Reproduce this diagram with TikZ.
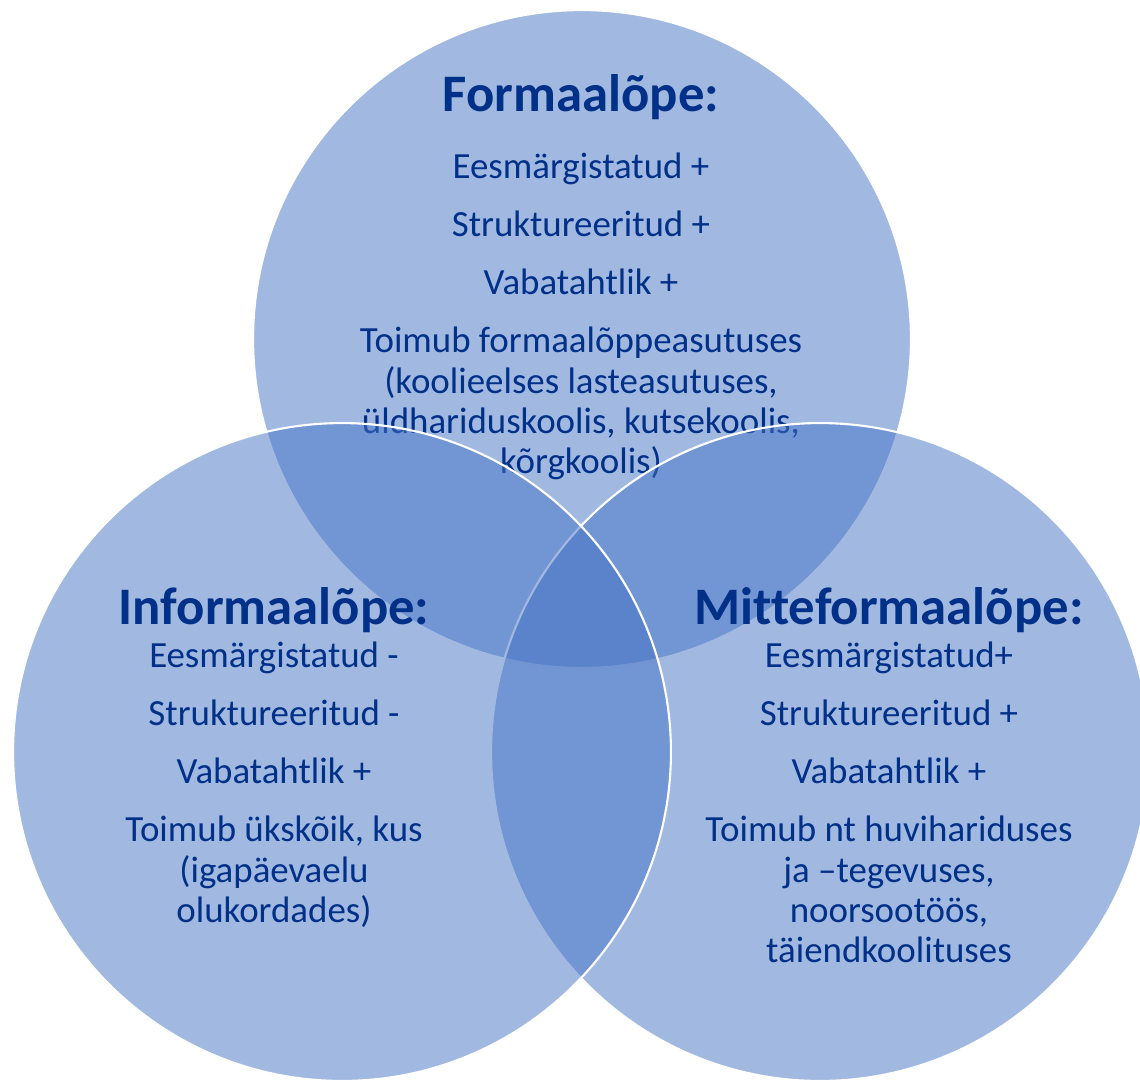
\documentclass[tikz,border=0pt]{standalone}
\usepackage{fontspec}
\setmainfont{Carlito}[Ligatures=CommonOff]
\usetikzlibrary{positioning}
\definecolor{vennfill}{RGB}{68,114,196}
\definecolor{venntext}{RGB}{0,48,135}
\tikzset{
  venn/.style={fill=vennfill, fill opacity=0.5, draw=white, line width=1.2pt},
  headtxt/.style={text=venntext, inner sep=0pt, font=\fontsize{30}{35}\selectfont\bfseries},
  bodytxt/.style={text=venntext, inner sep=0pt, align=center, font=\fontsize{21}{23}\selectfont},
}
\begin{document}
\begin{tikzpicture}[x=0.02cm,y=-0.02cm]
	\useasboundingbox (0,0) rectangle (1140,1080);
	\clip (0,0) rectangle (1140,1080);
	% formaalõpe
	\filldraw[venn] (582,339) circle[radius=6.58cm];
	\node[headtxt] (fhead) at (581,97) {Formaalõpe:};
	\node[bodytxt, below=0.66cm of fhead] (fbody) {Eesmärgistatud +\\[0.35cm]
		Struktureeritud +\\[0.35cm]
		Vabatahtlik +\\[0.35cm]
		Toimub formaalõppeasutuses\\
		(koolieelses lasteasutuses,\\
		üldhariduskoolis, kutsekoolis,\\
		kõrgkoolis)};
	% mitteformaalõpe
	\filldraw[venn] (820,752) circle[radius=6.58cm];
	\node[headtxt] (mhead) at (889,610) {Mitteformaalõpe:};
	\node[bodytxt, below=0.18cm of mhead] (mbody) {Eesmärgistatud+\\[0.35cm]
		Struktureeritud +\\[0.35cm]
		Vabatahtlik +\\[0.35cm]
		Toimub nt huvihariduses\\
		ja –tegevuses,\\
		noorsootöös,\\
		täiendkoolituses};
	% informaalõpe
	\filldraw[venn] (342,752) circle[radius=6.58cm];
	\node[headtxt] (ihead) at (274,610) {Informaalõpe:};
	\node[bodytxt, below=0.18cm of ihead] (ibody) {Eesmärgistatud -\\[0.35cm]
		Struktureeritud -\\[0.35cm]
		Vabatahtlik +\\[0.35cm]
		Toimub ükskõik, kus\\
		(igapäevaelu\\
		olukordades)};
\end{tikzpicture}
\end{document}
